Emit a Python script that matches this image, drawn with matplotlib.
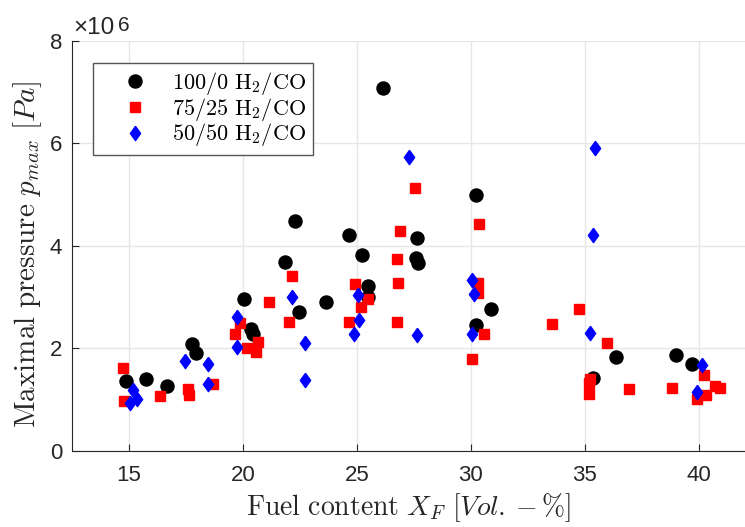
import numpy as np
import matplotlib
matplotlib.use("Agg")
import matplotlib.pyplot as plt

plt.rcParams['mathtext.fontset'] = 'cm'
plt.rcParams['font.family'] = ['Liberation Sans', 'DejaVu Sans']

# Data (pressure in 1e6 Pa)
x_100 = [14.85, 15.75, 16.66, 17.75, 17.95, 20.04, 20.36, 20.46, 21.85, 22.26, 22.45,
         23.65, 24.64, 25.23, 25.47, 25.47, 26.14, 27.64, 27.57, 27.67, 30.23, 30.86,
         30.23, 35.34, 36.34, 39.0, 39.7]
p_100 = [1.36, 1.40, 1.27, 2.08, 1.90, 2.96, 2.38, 2.28, 3.69, 4.48, 2.71,
         2.91, 4.22, 3.82, 3.22, 3.01, 7.07, 4.16, 3.76, 3.67, 5.00, 2.76,
         2.45, 1.43, 1.84, 1.87, 1.69]

x_75 = [14.73, 14.80, 16.37, 17.58, 17.65, 18.70, 19.63, 19.85, 20.16, 20.56, 20.65,
        21.16, 22.04, 22.16, 24.64, 24.93, 25.18, 25.47, 26.74, 26.81, 26.74, 26.88,
        27.55, 30.03, 30.33, 30.30, 30.34, 30.56, 33.54, 34.73, 35.17, 35.17, 35.20,
        35.96, 36.91, 38.82, 39.92, 40.32, 40.21, 40.71, 40.94]
p_75 = [1.61, 0.97, 1.06, 1.21, 1.08, 1.31, 2.27, 2.49, 2.00, 1.93, 2.12,
        2.90, 2.52, 3.41, 2.52, 3.25, 2.81, 2.96, 2.52, 3.28, 3.75, 4.29,
        5.12, 1.79, 3.07, 3.27, 4.43, 2.27, 2.47, 2.77, 1.11, 1.32, 1.41,
        2.10, 1.20, 1.23, 1.02, 1.08, 1.48, 1.27, 1.22]

x_50 = [15.05, 15.17, 15.34, 17.46, 18.46, 18.46, 19.73, 19.73, 22.16, 22.74, 22.74,
        24.85, 25.04, 25.07, 27.26, 27.64, 30.03, 30.05, 30.15, 35.24, 35.34, 35.45,
        39.92, 40.14]
p_50 = [0.93, 1.19, 1.02, 1.76, 1.69, 1.30, 2.03, 2.62, 3.00, 2.10, 1.38,
        2.27, 3.04, 2.55, 5.74, 2.26, 2.27, 3.33, 3.05, 2.29, 4.22, 5.90,
        1.15, 1.67]

labels = [r'$\mathrm{100/0\ H_2/CO}$', r'$\mathrm{75/25\ H_2/CO}$', r'$\mathrm{50/50\ H_2/CO}$']
xticks = [15, 20, 25, 30, 35, 40]
yticks = [0, 2e6, 4e6, 6e6, 8e6]

diamond = [(0, 1), (0.72, 0), (0, -1), (-0.72, 0), (0, 1)]

fig = plt.figure(figsize=(7.45, 5.27), dpi=100)
ax = fig.add_axes([72/745, (527-450.8)/527, (745-72)/745, (450.8-40.8)/527])

ax.plot(x_100, np.array(p_100)*1e6, 'o', color='black', markersize=9.4, linestyle='none', label=labels[0])
ax.plot(x_75, np.array(p_75)*1e6, 's', color='#ff0000', markersize=7.2, linestyle='none', label=labels[1])
ax.plot(x_50, np.array(p_50)*1e6, marker=diamond, color='#0000ff', markersize=10.3, linestyle='none', label=labels[2])

ax.set_xlim(12.5, 42.02)
ax.set_ylim(0, 8e6)
ax.set_xticks(xticks)
ax.set_yticks(yticks)
ax.set_yticklabels([f'{v/1e6:g}' for v in yticks])
ax.grid(True, color='#e6e6e6', linewidth=1.0)
ax.set_axisbelow(True)
for s in ['top', 'right']:
    ax.spines[s].set_visible(False)
for s in ['left', 'bottom']:
    ax.spines[s].set_color('#262626')
    ax.spines[s].set_linewidth(0.8)
ax.tick_params(direction='in', length=5, width=0.8, colors='#262626', labelsize=16)
ax.tick_params(axis='x', pad=10)
ax.tick_params(axis='y', pad=7)

ax.set_xlabel(r'$\mathrm{Fuel\ content}\ X_F\ [Vol.-\%]$', fontsize=20, color='#262626', labelpad=4)
ax.set_ylabel(r'$\mathrm{Maximal\ pressure}\ p_{max}\ [Pa]$', fontsize=21, color='#262626')
ax.yaxis.set_label_coords(-0.042, 0.478)

fig.text(73/745, 1-34/527, '×10', fontsize=17.5, color='#262626', ha='left', va='baseline')
fig.text(118/745, 1-31/527, '6', fontsize=15, color='#262626', ha='left', va='baseline')

leg = ax.legend(loc='upper left', bbox_to_anchor=(93/745, 1-63/527), bbox_transform=fig.transFigure,
                fontsize=16, frameon=True, fancybox=False, edgecolor='#555555', framealpha=1,
                handletextpad=0.1, borderpad=0.3, labelspacing=-0.05, handlelength=3.15,
                borderaxespad=0)
leg.get_frame().set_linewidth(1.0)

fig.savefig('out.png', dpi=100)
